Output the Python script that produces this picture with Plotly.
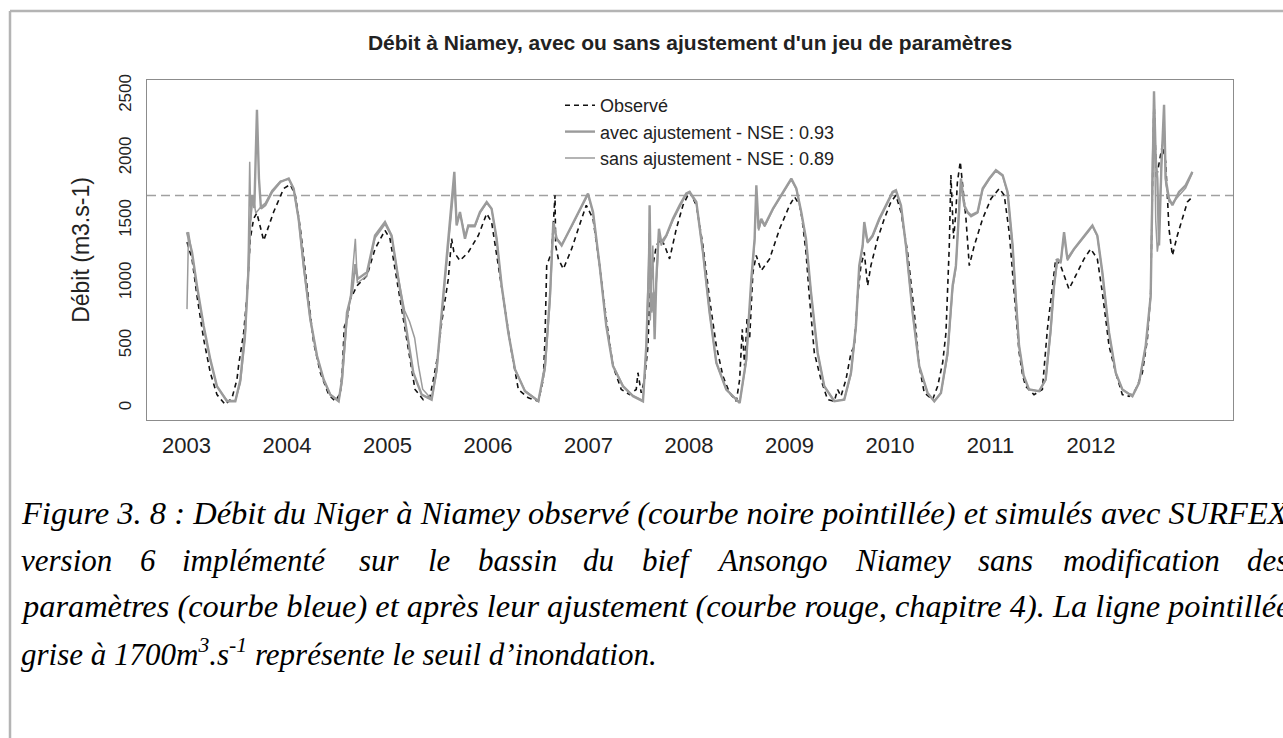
import plotly.graph_objects as go

# observed discharge at Niamey (decimal year, m3/s)
obs_t = [2003.005, 2003.055, 2003.104, 2003.171, 2003.237, 2003.303, 2003.386, 2003.453, 2003.502, 2003.52,
         2003.569, 2003.602, 2003.635, 2003.668, 2003.70, 2003.768, 2003.867, 2003.967, 2004.033, 2004.083,
         2004.133, 2004.199, 2004.265, 2004.332, 2004.415, 2004.481, 2004.531, 2004.55, 2004.57, 2004.597,
         2004.63, 2004.697, 2004.796, 2004.876, 2004.975, 2005.025, 2005.075, 2005.141, 2005.207, 2005.274,
         2005.356, 2005.423, 2005.45, 2005.473, 2005.50, 2005.539, 2005.605, 2005.638, 2005.66, 2005.72,
         2005.804, 2005.904, 2005.987, 2006.036, 2006.103, 2006.169, 2006.236, 2006.302, 2006.401, 2006.501,
         2006.55, 2006.567, 2006.584, 2006.633, 2006.667, 2006.673, 2006.70, 2006.75, 2006.832, 2006.932,
         2006.978, 2007.045, 2007.111, 2007.177, 2007.244, 2007.326, 2007.409, 2007.475, 2007.492, 2007.525,
         2007.558, 2007.592, 2007.608, 2007.641, 2007.675, 2007.724, 2007.757, 2007.807, 2007.874, 2007.94,
         2008.006, 2008.073, 2008.139, 2008.205, 2008.272, 2008.338, 2008.404, 2008.471, 2008.504, 2008.53,
         2008.554, 2008.577, 2008.603, 2008.636, 2008.669, 2008.719, 2008.802, 2008.902, 2009.001, 2009.051,
         2009.101, 2009.125, 2009.164, 2009.197, 2009.247, 2009.313, 2009.379, 2009.446, 2009.479, 2009.512,
         2009.562, 2009.612, 2009.645, 2009.678, 2009.711, 2009.744, 2009.777, 2009.81, 2009.877, 2009.943,
         2010.009, 2010.059, 2010.109, 2010.175, 2010.242, 2010.291, 2010.341, 2010.424, 2010.474, 2010.524,
         2010.557, 2010.59, 2010.606, 2010.633, 2010.656, 2010.67, 2010.699, 2010.723, 2010.756, 2010.789,
         2010.839, 2010.922, 2011.005, 2011.088, 2011.137, 2011.187, 2011.237, 2011.284, 2011.32, 2011.35,
         2011.433, 2011.516, 2011.566, 2011.616, 2011.649, 2011.698, 2011.781, 2011.848, 2011.931, 2011.997,
         2012.063, 2012.113, 2012.18, 2012.246, 2012.312, 2012.379, 2012.445, 2012.511, 2012.561, 2012.594,
         2012.617, 2012.627, 2012.65, 2012.677, 2012.71, 2012.743, 2012.776, 2012.81, 2012.859, 2012.909,
         2012.959, 2012.992]
obs_q = [1327, 1193, 898, 550, 282, 107, 27, 80, 228, 350,
         603, 898, 1354, 1514, 1560, 1340, 1568, 1756, 1788, 1702,
         1434, 978, 523, 282, 107, 54, 121, 300, 650, 700,
         871, 978, 1059, 1273, 1421, 1354, 1112, 764, 442, 148,
         67, 94, 200, 308, 420, 684, 1032, 1354, 1250, 1179,
         1246, 1380, 1555, 1488, 1139, 764, 442, 148, 81, 54,
         228, 550, 1139, 1246, 1702, 1300, 1193, 1112, 1273, 1514,
         1622, 1514, 1139, 711, 335, 148, 107, 148, 282, 121,
         228, 496, 898, 1139, 1300, 1354, 1300, 1193, 1434, 1622,
         1729, 1622, 1300, 871, 496, 255, 121, 54, 228, 630,
         335, 711, 550, 1086, 1220, 1099, 1193, 1434, 1622, 1689,
         1622, 1514, 1246, 898, 442, 228, 67, 54, 148, 94,
         228, 442, 496, 898, 1139, 1246, 978, 1139, 1354, 1514,
         1648, 1702, 1568, 1246, 764, 335, 121, 67, 174, 362,
         603, 1300, 1863, 1354, 1568, 1800, 1970, 1782, 1514, 1139,
         1300, 1514, 1675, 1756, 1702, 1400, 900, 450, 260, 174,
         107, 148, 630, 978, 1193, 1139, 952, 1059, 1193, 1273,
         1193, 925, 496, 282, 107, 94, 148, 282, 550, 925,
         1836, 2479, 1836, 1970, 2104, 1970, 1434, 1220, 1380, 1514,
         1648, 1675]

# simulation with adjusted parameters
avec_t = [2003.005, 2003.055, 2003.104, 2003.171, 2003.237, 2003.303, 2003.403, 2003.486, 2003.536, 2003.585,
          2003.619, 2003.635, 2003.652, 2003.675, 2003.701, 2003.721, 2003.741, 2003.784, 2003.851, 2003.934,
          2004.017, 2004.066, 2004.116, 2004.166, 2004.232, 2004.299, 2004.365, 2004.431, 2004.514, 2004.547,
          2004.597, 2004.647, 2004.68, 2004.703, 2004.796, 2004.876, 2004.975, 2005.041, 2005.108, 2005.174,
          2005.257, 2005.34, 2005.439, 2005.489, 2005.539, 2005.589, 2005.622, 2005.645, 2005.665, 2005.688,
          2005.721, 2005.771, 2005.804, 2005.87, 2005.92, 2005.987, 2006.036, 2006.086, 2006.136, 2006.202,
          2006.269, 2006.368, 2006.501, 2006.567, 2006.617, 2006.65, 2006.683, 2006.733, 2006.832, 2006.965,
          2006.995, 2007.045, 2007.111, 2007.177, 2007.244, 2007.343, 2007.443, 2007.542, 2007.575, 2007.602,
          2007.608, 2007.625, 2007.648, 2007.658, 2007.675, 2007.701, 2007.724, 2007.774, 2007.84, 2007.907,
          2007.973, 2008.006, 2008.073, 2008.139, 2008.205, 2008.272, 2008.371, 2008.504, 2008.57, 2008.62,
          2008.653, 2008.67, 2008.693, 2008.719, 2008.753, 2008.836, 2008.935, 2009.018, 2009.068, 2009.117,
          2009.164, 2009.214, 2009.28, 2009.346, 2009.446, 2009.545, 2009.612, 2009.661, 2009.694, 2009.728,
          2009.744, 2009.777, 2009.827, 2009.893, 2009.96, 2010.026, 2010.059, 2010.109, 2010.159, 2010.225,
          2010.291, 2010.374, 2010.441, 2010.507, 2010.573, 2010.623, 2010.656, 2010.689, 2010.706, 2010.739,
          2010.772, 2010.806, 2010.872, 2010.922, 2010.988, 2011.054, 2011.121, 2011.17, 2011.22, 2011.25,
          2011.284, 2011.33, 2011.383, 2011.483, 2011.549, 2011.599, 2011.632, 2011.665, 2011.699, 2011.732,
          2011.765, 2011.831, 2011.914, 2011.98, 2012.014, 2012.063, 2012.113, 2012.18, 2012.246, 2012.312,
          2012.412, 2012.478, 2012.544, 2012.594, 2012.611, 2012.627, 2012.644, 2012.66, 2012.677, 2012.7,
          2012.727, 2012.743, 2012.776, 2012.81, 2012.876, 2012.942, 2013.009]
avec_q = [1407, 1246, 978, 657, 389, 174, 54, 54, 228, 630,
          1139, 1514, 1700, 1600, 2385, 1836, 1595, 1622, 1729, 1809,
          1836, 1756, 1514, 1139, 711, 416, 228, 107, 54, 228,
          764, 925, 1150, 1032, 1086, 1380, 1488, 1380, 1032, 711,
          282, 107, 67, 308, 764, 1193, 1461, 1702, 1890, 1461,
          1568, 1354, 1461, 1461, 1568, 1648, 1595, 1354, 978, 603,
          308, 134, 54, 335, 898, 1488, 1354, 1300, 1461, 1675,
          1716, 1568, 1139, 657, 335, 174, 94, 54, 496, 1139,
          1622, 764, 925, 550, 1032, 1434, 1327, 1380, 1514, 1622,
          1716, 1729, 1648, 1246, 764, 362, 148, 40, 389, 1032,
          1354, 1782, 1434, 1514, 1461, 1595, 1729, 1836, 1756, 1568,
          1354, 925, 442, 174, 54, 67, 282, 657, 1139, 1300,
          1488, 1327, 1380, 1514, 1622, 1729, 1742, 1622, 1300, 764,
          335, 121, 54, 121, 442, 978, 1139, 1675, 1836, 1622,
          1568, 1541, 1568, 1756, 1836, 1903, 1863, 1729, 1300, 900,
          500, 260, 148, 134, 228, 630, 978, 1193, 1166, 1407,
          1193, 1273, 1354, 1421, 1461, 1380, 1086, 603, 282, 148,
          94, 201, 496, 898, 1702, 2533, 1997, 1836, 1300, 1916,
          2426, 1836, 1675, 1622, 1729, 1782, 1890]

# simulation without adjustment
sans_t = [2003.005, 2003.02, 2003.055, 2003.104, 2003.171, 2003.237, 2003.303, 2003.403, 2003.486, 2003.536,
          2003.585, 2003.612, 2003.629, 2003.64, 2003.66, 2003.69, 2003.741, 2003.784, 2003.851, 2003.934,
          2004.017, 2004.066, 2004.116, 2004.166, 2004.232, 2004.299, 2004.365, 2004.431, 2004.514, 2004.547,
          2004.597, 2004.63, 2004.68, 2004.7, 2004.796, 2004.876, 2004.975, 2005.041, 2005.108, 2005.17,
          2005.22, 2005.27, 2005.31, 2005.35, 2005.439, 2005.489, 2005.539, 2005.589, 2005.622, 2005.645,
          2005.665, 2005.688, 2005.721, 2005.771, 2005.804, 2005.87, 2005.92, 2005.987, 2006.036, 2006.086,
          2006.136, 2006.202, 2006.269, 2006.368, 2006.501, 2006.567, 2006.617, 2006.65, 2006.683, 2006.733,
          2006.832, 2006.965, 2006.995, 2007.045, 2007.111, 2007.177, 2007.244, 2007.343, 2007.443, 2007.542,
          2007.575, 2007.595, 2007.605, 2007.615, 2007.63, 2007.64, 2007.655, 2007.662, 2007.68, 2007.701,
          2007.724, 2007.774, 2007.84, 2007.907, 2007.973, 2008.006, 2008.073, 2008.139, 2008.205, 2008.272,
          2008.371, 2008.504, 2008.57, 2008.62, 2008.653, 2008.67, 2008.693, 2008.719, 2008.753, 2008.836,
          2008.935, 2009.018, 2009.068, 2009.117, 2009.164, 2009.214, 2009.28, 2009.346, 2009.446, 2009.545,
          2009.612, 2009.661, 2009.694, 2009.728, 2009.744, 2009.777, 2009.827, 2009.893, 2009.96, 2010.026,
          2010.059, 2010.109, 2010.159, 2010.225, 2010.291, 2010.374, 2010.441, 2010.507, 2010.573, 2010.623,
          2010.656, 2010.689, 2010.706, 2010.739, 2010.772, 2010.806, 2010.872, 2010.922, 2010.988, 2011.054,
          2011.121, 2011.17, 2011.22, 2011.25, 2011.284, 2011.33, 2011.383, 2011.483, 2011.549, 2011.599,
          2011.632, 2011.665, 2011.699, 2011.732, 2011.765, 2011.831, 2011.914, 2011.98, 2012.014, 2012.063,
          2012.113, 2012.18, 2012.246, 2012.312, 2012.412, 2012.478, 2012.544, 2012.594, 2012.611, 2012.627,
          2012.644, 2012.66, 2012.677, 2012.7, 2012.727, 2012.743, 2012.776, 2012.81, 2012.876, 2012.942,
          2013.009]
sans_q = [791, 1407, 1230, 960, 640, 380, 170, 60, 60, 200,
          560, 1100, 1970, 1500, 1700, 1560, 1610, 1640, 1740, 1815,
          1830, 1750, 1500, 1120, 700, 410, 225, 110, 60, 200,
          700, 880, 1354, 1000, 1060, 1360, 1470, 1370, 1040, 780,
          690, 560, 330, 150, 70, 290, 740, 1170, 1440, 1650,
          1800, 1470, 1560, 1380, 1450, 1450, 1560, 1640, 1590, 1350,
          970, 600, 310, 140, 60, 300, 850, 1450, 1360, 1310,
          1450, 1660, 1705, 1560, 1135, 660, 340, 180, 100, 60,
          470, 1100, 1400, 700, 1200, 1300, 650, 900, 1050, 1400,
          1300, 1370, 1500, 1610, 1710, 1720, 1640, 1240, 760, 360,
          150, 45, 370, 1000, 1330, 1700, 1420, 1500, 1450, 1590,
          1720, 1825, 1750, 1560, 1340, 920, 440, 175, 55, 70,
          270, 640, 1120, 1290, 1450, 1320, 1370, 1500, 1610, 1720,
          1735, 1615, 1290, 760, 330, 120, 55, 120, 420, 950,
          1120, 1650, 1800, 1610, 1560, 1530, 1560, 1745, 1830, 1895,
          1855, 1720, 1300, 900, 500, 250, 150, 135, 220, 600,
          960, 1180, 1160, 1390, 1180, 1265, 1345, 1415, 1455, 1375,
          1080, 600, 280, 150, 95, 200, 490, 880, 1970, 2479,
          1500, 1250, 1354, 1970, 2300, 1800, 1650, 1640, 1700, 1760,
          1880]

years = list(range(2003, 2013))
y_ticks = [0, 500, 1000, 1500, 2000, 2500]
seuil = 1700

title = "Débit à Niamey, avec ou sans ajustement d'un jeu de paramètres"
names = ["Observé", "avec ajustement - NSE : 0.93", "sans ajustement - NSE : 0.89"]

caption_1 = "Figure 3. 8 : Débit du Niger à Niamey observé (courbe noire pointillée) et simulés avec SURFEX"
caption_2 = ["version", "6", "implémenté", "sur", "le", "bassin", "du", "bief", "Ansongo", "Niamey",
             "sans", "modification", "des"]
caption_3 = "paramètres (courbe bleue) et après leur ajustement (courbe rouge, chapitre 4). La ligne pointillée"
caption_4 = "grise à 1700m<sup>3</sup>.s<sup>-1</sup> représente le seuil d’inondation."

# geometry of the plot box in the 1283x738 page (pixels)
W, H = 1283, 738
L, R, T, B = 147, 1233, 80, 420
X0, X1 = 2002.607, 2013.413
Y0, Y1 = -96, 2624


def px(x):
    return (x - L) / (R - L)


def py(y):
    return (B - y) / (B - T)


GREY = "#9b9b9b"
fig = go.Figure()
fig.add_trace(go.Scatter(x=obs_t, y=obs_q, mode="lines", name=names[0],
                         line=dict(color="#111111", width=1.6, dash="5px,4px")))
fig.add_trace(go.Scatter(x=avec_t, y=avec_q, mode="lines", name=names[1],
                         line=dict(color=GREY, width=2.4)))
fig.add_trace(go.Scatter(x=sans_t, y=sans_q, mode="lines", name=names[2],
                         line=dict(color=GREY, width=1.5)))

# flood threshold
fig.add_shape(type="line", xref="paper", yref="y", x0=0, x1=1, y0=seuil, y1=seuil,
              line=dict(color="#a0a0a0", width=1.3, dash="9px,5px"), layer="below")

# page frame
fig.add_shape(type="line", xref="paper", yref="paper", x0=px(10), x1=px(W), y0=py(11), y1=py(11),
              line=dict(color="#b4b4b4", width=2.5))
fig.add_shape(type="line", xref="paper", yref="paper", x0=px(10), x1=px(10), y0=py(11), y1=py(H),
              line=dict(color="#b4b4b4", width=2.5))

# caption (justified lines are stretched a little)
for txt, yy, size in [(caption_1, 513, 32.5), (caption_3, 606, 32.4), (caption_4, 652, 31)]:
    fig.add_annotation(text=f"<i>{txt}</i>", xref="paper", yref="paper", x=px(19), y=py(yy),
                       xanchor="left", yanchor="middle", showarrow=False,
                       font=dict(family="Liberation Serif", size=size, color="#000000"))
word_x = [22, 141, 183, 360, 429, 479, 584, 643, 718, 856, 979, 1064, 1248]
for w, xx in zip(caption_2, word_x):
    fig.add_annotation(text=f"<i>{w}</i>", xref="paper", yref="paper", x=px(xx - 3), y=py(560),
                       xanchor="left", yanchor="middle", showarrow=False,
                       font=dict(family="Liberation Serif", size=31, color="#000000"))

fig.update_layout(
    width=W, height=H,
    margin=dict(l=L, r=W - R, t=T, b=H - B),
    paper_bgcolor="white", plot_bgcolor="white",
    font=dict(family="Liberation Sans", color="#222222", size=18),
    title=dict(text=f"<b>{title}</b>", x=0.5, xref="paper", xanchor="center",
               y=1 - 43 / H, yref="container", yanchor="middle",
               font=dict(size=21, color="#222222")),
    showlegend=True,
    legend=dict(x=px(560), y=py(87), xanchor="left", yanchor="top", bgcolor="rgba(0,0,0,0)",
                font=dict(size=18, color="#222222"), tracegroupgap=0),
)
fig.update_xaxes(range=[X0, X1], tickmode="array", tickvals=years, ticktext=[str(y) for y in years],
                 showgrid=False, zeroline=False, showline=True, mirror=True, linecolor="#8c8c8c",
                 linewidth=1, ticks="", ticklabelstandoff=6, tickfont=dict(size=22))
fig.update_yaxes(range=[Y0, Y1], tickmode="array", tickvals=y_ticks, showgrid=False, zeroline=False,
                 showline=True, mirror=True, linecolor="#8c8c8c", linewidth=1, ticks="",
                 tickangle=-90, ticklabelstandoff=8, tickfont=dict(size=17),
                 title=dict(text="Débit (m3.s-1)", font=dict(size=23), standoff=20))

fig.write_html("out.html", config={"displayModeBar": False},
               post_script="document.body.style.margin='0';")
